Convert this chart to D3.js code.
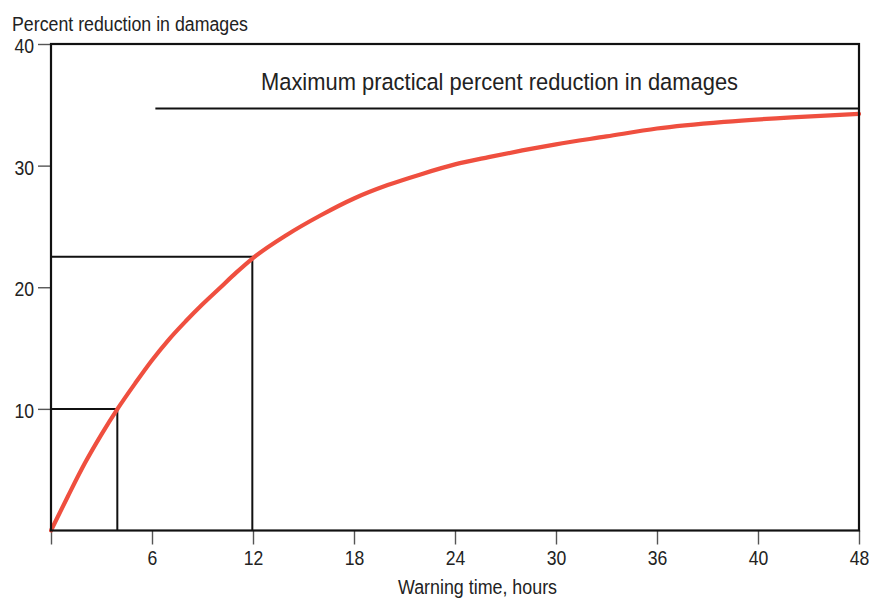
<!DOCTYPE html>
<html>
<head>
<meta charset="utf-8">
<script src="https://cdn.jsdelivr.net/npm/d3@7"></script>
<style>
  html, body { margin: 0; padding: 0; background: #fff; }
  svg { display: block; font-family: "Liberation Sans", Arial, Helvetica, sans-serif; }
</style>
</head>
<body>
<svg id="chart" width="869" height="599"></svg>
<script>
// ---- data ----
const hours   = [0, 1, 2, 3, 4, 5, 6, 7, 8, 9, 10, 11, 12, 14, 16, 18, 20, 22, 24, 26, 28, 30, 33, 36, 40, 44, 48];
const percent = [0, 2.8, 5.5, 7.9, 10.1, 12.1, 14.0, 15.7, 17.2, 18.6, 19.9, 21.2, 22.4, 24.3, 25.9, 27.3, 28.4, 29.3, 30.1, 30.7, 31.25, 31.75, 32.4, 33.05, 33.6, 33.97, 34.25];
const guideHours   = [3.94, 11.96];
const guidePercent = [10, 22.5];
const maxPercent = 34.7;
const maxStartHour = 6.2;
const xTickValues = [0, 6, 12, 18, 24, 30, 36, 42, 48];
const xTickLabels = ["", "6", "12", "18", "24", "30", "36", "40", "48"];
const yTickValues = [10, 20, 30, 40];
const yTickLabels = ["10", "20", "30", "40"];
const yTitle = "Percent reduction in damages";
const xTitle = "Warning time, hours";
const maxLabel = "Maximum practical percent reduction in damages";

// ---- layout ----
const svg = d3.select("#chart");
const W = 869, H = 599;
const m = { left: 51, right: 10, top: 44, bottom: 68.5 };
const x = d3.scaleLinear().domain([0, 48]).range([m.left, W - m.right]);
const y = d3.scaleLinear().domain([0, 40]).range([H - m.bottom, m.top]);
const SX = 0.88; // condensed look

// axes ticks
const xAxis = d3.axisBottom(x).tickValues(xTickValues)
  .tickFormat((d, i) => xTickLabels[i]).tickSize(14).tickPadding(6);
const gx = svg.append("g").attr("transform", `translate(0,${y(0)})`).call(xAxis);
gx.select(".domain").remove();
gx.selectAll("line").attr("stroke", "#555").attr("stroke-width", 1.4);
gx.selectAll("text").attr("font-size", 20).attr("fill", "#222")
  .attr("font-family", "Liberation Sans, Arial, sans-serif")
  .attr("transform", `scale(${SX},1)`);

const yAxis = d3.axisLeft(y).tickValues(yTickValues)
  .tickFormat((d, i) => yTickLabels[i]).tickSize(13).tickPadding(4);
const gy = svg.append("g").attr("transform", `translate(${x(0)},0)`).call(yAxis);
gy.select(".domain").remove();
gy.selectAll("line").attr("stroke", "#555").attr("stroke-width", 1.4);
gy.selectAll("text").attr("font-size", 20).attr("fill", "#222")
  .attr("font-family", "Liberation Sans, Arial, sans-serif")
  .attr("dy", "0.42em")
  .attr("transform", `scale(${SX},1)`)
  .attr("x", -17 / SX);

// guide boxes
guideHours.forEach((h, i) => {
  const p = guidePercent[i];
  svg.append("path")
    .attr("d", `M${x(0)},${y(p)}H${x(h)}V${y(0)}`)
    .attr("fill", "none").attr("stroke", "#111").attr("stroke-width", 2);
});

// max practical line
svg.append("line")
  .attr("x1", x(maxStartHour)).attr("x2", x(48))
  .attr("y1", y(maxPercent)).attr("y2", y(maxPercent))
  .attr("stroke", "#111").attr("stroke-width", 2);

// curve
const pts = hours.map((h, i) => [h, percent[i]]);
const line = d3.line().x(d => x(d[0])).y(d => y(d[1])).curve(d3.curveMonotoneX);
svg.append("path").datum(pts).attr("d", line)
  .attr("fill", "none").attr("stroke", "#ef4f3f").attr("stroke-width", 4.2)
  .attr("stroke-linecap", "round");

// frame (left, top, right, bottom)
svg.append("rect")
  .attr("x", x(0)).attr("y", y(40))
  .attr("width", x(48) - x(0)).attr("height", y(0) - y(40))
  .attr("fill", "none").attr("stroke", "#111").attr("stroke-width", 2.2);

// texts
svg.append("text").attr("x", 12).attr("y", 31)
  .attr("font-size", 20).attr("fill", "#222")
  .attr("textLength", 236).attr("lengthAdjust", "spacingAndGlyphs")
  .text(yTitle);

svg.append("text").attr("x", 261).attr("y", 89.5)
  .attr("font-size", 24.5).attr("fill", "#222")
  .attr("textLength", 477).attr("lengthAdjust", "spacingAndGlyphs")
  .text(maxLabel);

svg.append("text").attr("x", 398).attr("y", 594)
  .attr("font-size", 20).attr("fill", "#222")
  .attr("textLength", 159).attr("lengthAdjust", "spacingAndGlyphs")
  .text(xTitle);
</script>
</body>
</html>
